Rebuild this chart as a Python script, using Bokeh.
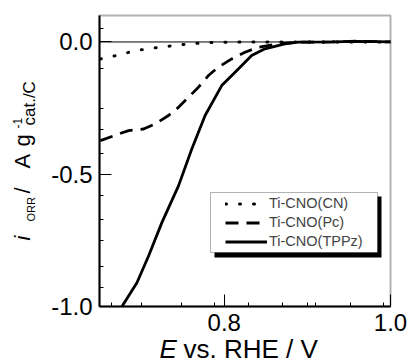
import math
from bokeh.plotting import figure
from bokeh.models import (Range1d, FixedTicker, Label, BoxAnnotation, Legend,
                          LegendItem, LinearAxis)
from bokeh.embed import file_html
from bokeh.resources import INLINE

# ---- data ----
tppz_x = [0.677, 0.695, 0.709, 0.725, 0.745, 0.761, 0.777, 0.797, 0.817, 0.833,
          0.849, 0.873, 0.889, 0.93, 0.96, 1.0]
tppz_y = [-1.0, -0.91, -0.809, -0.683, -0.544, -0.405, -0.278, -0.165, -0.102,
          -0.051, -0.026, -0.007, -0.001, 0.0, 0.002, 0.0]

pc_x = [0.651, 0.673, 0.685, 0.703, 0.717, 0.733, 0.745, 0.759, 0.769, 0.781,
        0.793, 0.809, 0.825, 0.841, 0.865, 0.889, 0.93, 0.96, 1.0]
pc_y = [-0.373, -0.348, -0.335, -0.329, -0.31, -0.278, -0.247, -0.203, -0.171,
        -0.127, -0.095, -0.064, -0.039, -0.02, -0.007, -0.001, 0.0, 0.003, 0.0]

cn_x = [0.651, 0.671, 0.689, 0.707, 0.723, 0.741, 0.759, 0.777, 0.797, 0.85,
        0.9, 0.95, 1.0]
cn_y = [-0.064, -0.051, -0.036, -0.026, -0.02, -0.013, -0.007, -0.003, -0.001,
        0.0, 0.0, 0.0, 0.0]

series_names = ["Ti-CNO(CN)", "Ti-CNO(Pc)", "Ti-CNO(TPPz)"]

X0, X1 = 0.65, 1.0          # axis limits
Y0, Y1 = -1.0, 0.1
x_ticks = [0.8, 1.0]
x_minor = [0.665, 0.7, 0.7485, 0.788, 0.8287, 0.8707, 0.9, 0.9102, 0.9521, 0.9916]
y_ticks = [-1.0, -0.5, 0.0]
y_minor = [0.05, -0.1, -0.25, -0.33, -0.42, -0.58, -0.67, -0.75, -0.85, -0.93]

FONT = "Liberation Sans"

# ---- geometry (page pixels) ----
W, H = 408, 360
FL, FT, FR, FB = 99.0, 15.0, 390.0, 306.0     # plot box
kx = (FR - FL) / (X1 - X0)
ky = (FB - FT) / (Y1 - Y0)
xr = Range1d(X0 - FL / kx, X1 + (W - FR) / kx)
yr = Range1d(Y0 - (H - FB) / ky, Y1 + FT / ky)

p = figure(width=W, height=H, output_backend="svg", toolbar_location=None,
           title=None, x_range=xr, y_range=yr,
           x_axis_location=None, y_axis_location=None,
           min_border=0, min_border_left=0, min_border_right=0,
           min_border_top=0, min_border_bottom=0)
p.background_fill_color = "white"
p.border_fill_color = "white"
p.outline_line_color = None
p.xgrid.visible = False
p.ygrid.visible = False

xaxis = LinearAxis(fixed_location=Y0, bounds=(X0, X1),
                   ticker=FixedTicker(ticks=x_ticks, minor_ticks=x_minor))
yaxis = LinearAxis(fixed_location=X0, bounds=(Y0, Y1),
                   ticker=FixedTicker(ticks=y_ticks, minor_ticks=y_minor))
for ax in (xaxis, yaxis):
    ax.axis_line_color = "black"
    ax.axis_line_width = 2
    ax.major_tick_line_color = "black"
    ax.minor_tick_line_color = "black"
    ax.major_tick_line_width = 1
    ax.minor_tick_line_width = 1
    ax.major_tick_in = 12
    ax.major_tick_out = 0
    ax.minor_tick_in = 4
    ax.minor_tick_out = 0
    ax.major_label_text_font = FONT
    ax.major_label_text_font_size = "24px"
    ax.major_label_text_color = "black"
    ax.major_label_standoff = 7
xaxis.major_label_overrides = {0.8: "0.8", 1.0: "1.0"}
yaxis.major_label_overrides = {-1.0: "-1.0", -0.5: "-0.5", 0.0: "0.0"}
p.add_layout(xaxis, "below")
p.add_layout(yaxis, "left")

# plot box outline and zero line
p.add_layout(BoxAnnotation(left=X0, right=X1, bottom=Y0, top=Y1, fill_alpha=0,
                           line_color="black", line_width=2, level="underlay"))
p.segment(x0=[X0], y0=[0.0], x1=[X1], y1=[0.0], line_color="black", line_width=1)

r_cn = p.line(cn_x, cn_y, line_color="black", line_width=3, line_dash="1 13",
              line_cap="round")
r_pc = p.line(pc_x, pc_y, line_color="black", line_width=2.8, line_dash="13 8")
r_tp = p.line(tppz_x, tppz_y, line_color="black", line_width=2.8)

def sx(px):
    return px
def sy(py):
    return H - py

# legend shadow + box
box_kw = dict(left_units="screen", right_units="screen", top_units="screen",
              bottom_units="screen", level="overlay")
p.add_layout(BoxAnnotation(left=sx(214), right=sx(381), top=sy(196), bottom=sy(257),
                           fill_color="black", fill_alpha=1.0, line_alpha=0, **box_kw))
p.add_layout(BoxAnnotation(left=sx(210), right=sx(377), top=sy(192), bottom=sy(252),
                           fill_color="white", fill_alpha=1.0, line_color="black",
                           line_width=1, **box_kw))

legend = Legend(items=[LegendItem(label=series_names[0], renderers=[r_cn]),
                       LegendItem(label=series_names[1], renderers=[r_pc]),
                       LegendItem(label=series_names[2], renderers=[r_tp])],
                location=(sx(225), sy(250.5)), padding=0, margin=0, spacing=0,
                glyph_width=42, glyph_height=19, label_height=19,
                label_standoff=2, label_text_font=FONT,
                label_text_font_size="14.5px", background_fill_alpha=0,
                border_line_alpha=0, level="overlay")
p.add_layout(legend, "center")

MID = 0.3465   # distance (in em) from the alphabetic baseline to the text middle

def lab(px, py, text, size, style="normal", angle=0.0):
    # (px, py): start of the text on its baseline, page pixels
    fs = float(size.replace("px", ""))
    if angle == 0.0:
        mx, my = px, py - MID * fs
    else:
        mx, my = px - MID * fs, py
    p.add_layout(Label(x=sx(mx), y=sy(my), x_units="screen", y_units="screen",
                       text=text, text_font=FONT, text_font_size=size,
                       text_font_style=style, angle=angle,
                       text_align="left", text_baseline="middle",
                       text_color="black"))

V = math.pi / 2
# y axis title pieces: (baseline x, start y) on page
lab(30, 240, "i", "22px", "italic", V)
lab(34, 221, "ORR", "11px", "normal", V)
lab(30, 193, "/", "22px", "normal", V)
lab(30, 168, "A", "22px", "normal", V)
lab(30, 146, "g", "22px", "normal", V)
lab(21, 128, "-1", "12px", "normal", V)
lab(35, 125, "cat./C", "17px", "normal", V)

# x axis title pieces: (start x, baseline y) on page
lab(159, 358, "E", "26px", "italic")
lab(183, 358, "vs. RHE / V", "26px")

open("out.html", "w").write(file_html(p, INLINE))
